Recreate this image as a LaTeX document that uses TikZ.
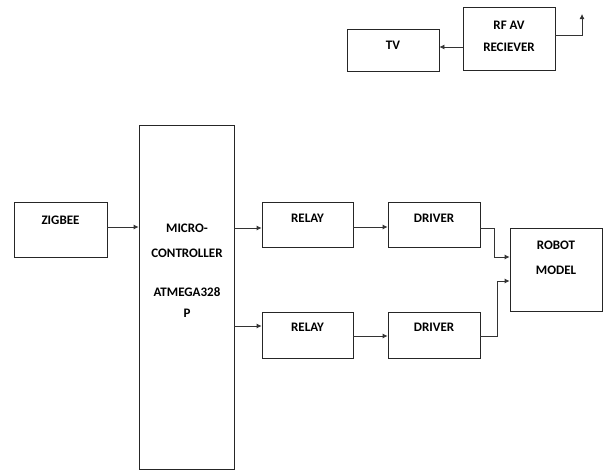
\documentclass[tikz,border=0pt]{standalone}
\usepackage{fontspec}
\setmainfont{Carlito}
\usetikzlibrary{arrows.meta,calc}
\tikzset{
  blk/.style={draw=black!85, line width=0.8pt, minimum width=#1, inner sep=0pt},
  txt/.style={font=\fontsize{13}{15}\selectfont\bfseries, inner sep=0pt},
  arr/.style={draw=black!80, line width=0.8pt, -{Latex[length=5pt,width=5pt]}}
}
\begin{document}
\begin{tikzpicture}[x=1pt,y=-1pt]
\useasboundingbox (0,0) rectangle (607,471);
% boxes
\node[blk=92pt, minimum height=42pt] (tv) at (393,50) {};
\node[blk=92pt, minimum height=63pt] (rf) at (509,38.5) {};
\node[blk=93pt, minimum height=55pt] (zig) at (60.5,229.5) {};
\node[blk=95pt, minimum height=344pt] (mc) at (186.5,297) {};
\node[blk=91pt, minimum height=45pt] (rel1) at (307.5,224.5) {};
\node[blk=92pt, minimum height=45pt] (drv1) at (434,224.5) {};
\node[blk=91pt, minimum height=46pt] (rel2) at (307.5,335) {};
\node[blk=92pt, minimum height=46pt] (drv2) at (434,335) {};
\node[blk=92pt, minimum height=83pt] (robot) at (556,269.5) {};
% texts
\node[txt] (ttv) at (393,45) {TV};
\node[txt] (trf1) at (509,25) {RF AV};
\node[txt] (trf2) at (509,47) {RECIEVER};
\node[txt] (tzig) at (60.5,220) {ZIGBEE};
\node[txt] (tmc1) at (187,228) {MICRO-};
\node[txt] (tmc2) at (187,253) {CONTROLLER};
\node[txt] (tmc3) at (187,292) {ATMEGA328};
\node[txt] (tmc4) at (187,313) {P};
\node[txt] (trel1) at (307.5,218) {RELAY};
\node[txt] (tdrv1) at (434,218) {DRIVER};
\node[txt] (trel2) at (307.5,327) {RELAY};
\node[txt] (tdrv2) at (434,327) {DRIVER};
\node[txt] (trob1) at (556,245) {ROBOT};
\node[txt] (trob2) at (556,270) {MODEL};
% connectors
\draw[arr] ([yshift=-8.5pt]rf.west) coordinate (a1) -- (a1 -| tv.east);
\coordinate (ant) at (582,14);
\draw[arr] ([yshift=3.5pt]rf.east) -| (ant);
\draw[arr] ([yshift=2.5pt]zig.east) coordinate (a2) -- (a2 -| mc.west);
\draw[arr] ([yshift=-3.5pt]rel1.west) coordinate (a3) (a3 -| mc.east) -- (a3);
\draw[arr] ([yshift=9pt]rel2.west) coordinate (a4) (a4 -| mc.east) -- (a4);
\draw[arr] ([yshift=-2.5pt]drv1.west) coordinate (a5) (a5 -| rel1.east) -- (a5);
\draw[arr] ([yshift=-1pt]drv2.west) coordinate (a6) (a6 -| rel2.east) -- (a6);
\coordinate (in1) at ([yshift=12.5pt]robot.west);
\coordinate (in2) at ([yshift=-11.5pt]robot.west);
\draw[arr] ([yshift=-3.5pt]drv1.east) -| ([xshift=-15pt]in1) -- (in1);
\draw[arr] ([yshift=-1pt]drv2.east) -| ([xshift=-12pt]in2) -- (in2);
\end{tikzpicture}
\end{document}
